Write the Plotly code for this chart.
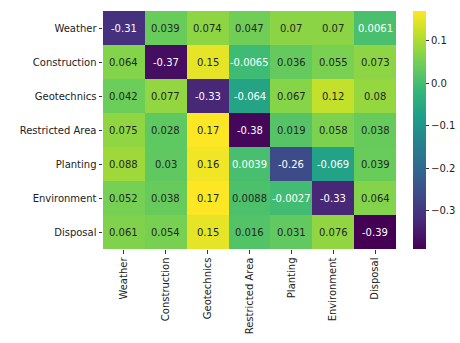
import plotly.graph_objects as go

labels = ["Weather", "Construction", "Geotechnics", "Restricted Area",
          "Planting", "Environment", "Disposal"]

row_weather = [-0.31, 0.039, 0.074, 0.047, 0.07, 0.07, 0.0061]
row_construction = [0.064, -0.37, 0.15, -0.0065, 0.036, 0.055, 0.073]
row_geotechnics = [0.042, 0.077, -0.33, -0.064, 0.067, 0.12, 0.08]
row_restricted = [0.075, 0.028, 0.17, -0.38, 0.019, 0.058, 0.038]
row_planting = [0.088, 0.03, 0.16, 0.0039, -0.26, -0.069, 0.039]
row_environment = [0.052, 0.038, 0.17, 0.0088, -0.0027, -0.33, 0.064]
row_disposal = [0.061, 0.054, 0.15, 0.016, 0.031, 0.076, -0.39]

z = [row_weather, row_construction, row_geotechnics, row_restricted,
     row_planting, row_environment, row_disposal]

cb_tickvals = [0.1, 0.0, -0.1, -0.2, -0.3]
cb_ticktext = ["0.1", "0.0", "\u22120.1", "\u22120.2", "\u22120.3"]

FONT = "DejaVu Sans"

fig = go.Figure(go.Heatmap(
    z=z, x=labels, y=labels,
    colorscale="Viridis",
    zmin=min(min(r) for r in z), zmax=max(max(r) for r in z),
    xgap=0, ygap=0,
    colorbar=dict(
        x=1.058, xanchor="left", xref="paper",
        y=0.5, yanchor="middle", len=1.0, lenmode="fraction",
        xpad=0, ypad=0,
        thickness=13, outlinewidth=0,
        tickvals=cb_tickvals, ticktext=cb_ticktext,
        ticks="outside", ticklen=3.5, tickwidth=0.8, tickcolor="#333",
        tickfont=dict(family=FONT, size=10, color="#222"),
    ),
    hoverinfo="skip",
))

annotations = []
for i, row in enumerate(z):
    for j, v in enumerate(row):
        annotations.append(dict(
            x=labels[j], y=labels[i], xref="x", yref="y",
            text=format(v, ".2g"), showarrow=False,
            font=dict(family=FONT, size=10,
                      color="white" if v < 0.007 else "#262626"),
        ))

fig.update_layout(
    width=460, height=343,
    margin=dict(l=103, r=64, t=11, b=94, autoexpand=False),
    paper_bgcolor="white", plot_bgcolor="white",
    font=dict(family=FONT, size=10, color="#222"),
    annotations=annotations,
    xaxis=dict(tickangle=-90, ticks="outside", ticklen=3.5, tickwidth=0.8,
               tickcolor="#333", showgrid=False, zeroline=False,
               automargin=False,
               tickfont=dict(family=FONT, size=10, color="#222")),
    yaxis=dict(autorange="reversed", ticks="outside", ticklen=3.5,
               tickwidth=0.8, tickcolor="#333", showgrid=False,
               zeroline=False, automargin=False,
               tickfont=dict(family=FONT, size=10, color="#222")),
)

fig.write_html("out.html",
               config={"displayModeBar": False},
               post_script="document.body.style.margin='0';document.body.style.padding='0';")
